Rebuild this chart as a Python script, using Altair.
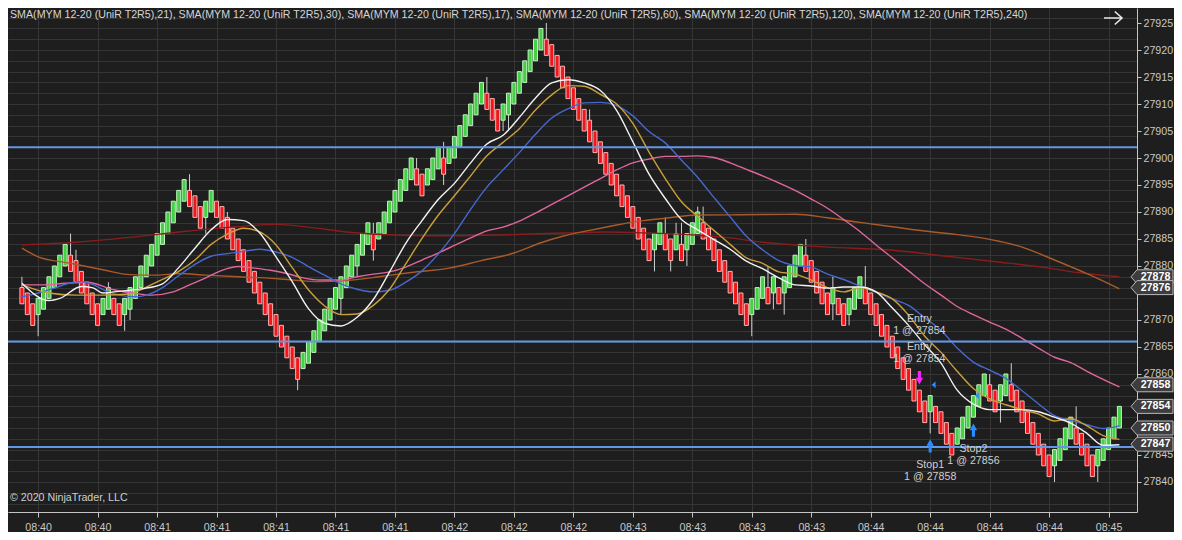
import altair as alt
import pandas as pd

# ---------------- data ----------------
title_text = ("SMA(MYM 12-20 (UniR T2R5),21), SMA(MYM 12-20 (UniR T2R5),30), "
              "SMA(MYM 12-20 (UniR T2R5),17), SMA(MYM 12-20 (UniR T2R5),60), "
              "SMA(MYM 12-20 (UniR T2R5),120), SMA(MYM 12-20 (UniR T2R5),240)")
copyright_text = "© 2020 NinjaTrader, LLC"

bar_open = [
    27876, 27875, 27873, 27871, 27872, 27874, 27876, 27878, 27880, 27882,
    27881, 27879, 27877, 27875, 27873, 27871, 27872, 27874, 27873, 27871,
    27872, 27874, 27876, 27878, 27880, 27882, 27884, 27886, 27888, 27890,
    27892, 27894, 27893, 27891, 27889, 27890, 27892, 27891, 27889, 27887,
    27885, 27883, 27881, 27879, 27877, 27875, 27873, 27871, 27869, 27867,
    27865, 27863, 27861, 27862, 27864, 27866, 27868, 27870, 27872, 27874,
    27876, 27878, 27880, 27882, 27884, 27886, 27885, 27886, 27888, 27890,
    27892, 27894, 27896, 27898, 27897, 27895, 27896, 27898, 27900, 27899,
    27900, 27902, 27904, 27906, 27908, 27910, 27912, 27911, 27909, 27907,
    27908, 27910, 27912, 27914, 27916, 27918, 27920, 27922, 27921, 27919,
    27917, 27915, 27913, 27911, 27909, 27907, 27905, 27903, 27901, 27899,
    27897, 27895, 27893, 27891, 27889, 27887, 27885, 27883, 27884, 27886,
    27885, 27883, 27884, 27883, 27884, 27886, 27888, 27887, 27885, 27883,
    27881, 27879, 27877, 27875, 27873, 27871, 27872, 27874, 27876, 27875,
    27876, 27875, 27876, 27878, 27880, 27882, 27881, 27879, 27877, 27875,
    27873, 27874, 27873, 27871, 27872, 27874, 27876, 27875, 27873, 27871,
    27869, 27867, 27865, 27863, 27861, 27859, 27857, 27855, 27853, 27854,
    27853, 27851, 27849, 27847, 27848, 27850, 27852, 27854, 27856, 27858,
    27857, 27855, 27856, 27858, 27857, 27855, 27853, 27851, 27849, 27847,
    27845, 27843, 27844, 27846, 27848, 27850, 27849, 27847, 27845, 27843,
    27844, 27846, 27848, 27850,
]
bar_close = [
    27873, 27871, 27869, 27874, 27876, 27878, 27880, 27882, 27884, 27879,
    27877, 27875, 27873, 27871, 27869, 27874, 27876, 27871, 27869, 27874,
    27876, 27878, 27880, 27882, 27884, 27886, 27888, 27890, 27892, 27894,
    27896, 27891, 27889, 27887, 27892, 27894, 27889, 27887, 27885, 27883,
    27881, 27879, 27877, 27875, 27873, 27871, 27869, 27867, 27865, 27863,
    27861, 27859, 27864, 27866, 27868, 27870, 27872, 27874, 27876, 27878,
    27880, 27882, 27884, 27886, 27888, 27883, 27888, 27890, 27892, 27894,
    27896, 27898, 27900, 27895, 27893, 27898, 27900, 27902, 27897, 27902,
    27904, 27906, 27908, 27910, 27912, 27914, 27909, 27907, 27905, 27910,
    27912, 27914, 27916, 27918, 27920, 27922, 27924, 27919, 27917, 27915,
    27913, 27911, 27909, 27907, 27905, 27903, 27901, 27899, 27897, 27895,
    27893, 27891, 27889, 27887, 27885, 27883, 27881, 27886, 27888, 27883,
    27881, 27886, 27881, 27886, 27888, 27890, 27885, 27883, 27881, 27879,
    27877, 27875, 27873, 27871, 27869, 27874, 27876, 27878, 27873, 27878,
    27873, 27878, 27880, 27882, 27884, 27879, 27877, 27875, 27873, 27871,
    27876, 27871, 27869, 27874, 27876, 27878, 27873, 27871, 27869, 27867,
    27865, 27863, 27861, 27859, 27857, 27855, 27853, 27851, 27856, 27851,
    27849, 27847, 27845, 27850, 27852, 27854, 27856, 27858, 27860, 27855,
    27853, 27858, 27860, 27855, 27853, 27851, 27849, 27847, 27845, 27843,
    27841, 27846, 27848, 27850, 27852, 27847, 27845, 27843, 27841, 27846,
    27848, 27850, 27852, 27854,
]

wick_bar = [0, 3, 9, 10, 16, 19, 20, 31, 34, 38,
            51, 59, 62, 65, 73, 78, 86, 89, 90, 97,
            105, 117, 119, 120, 121, 122, 123, 125, 126, 135,
            138, 139, 141, 145, 150, 153, 156, 168, 179, 181,
            183, 191, 195, 199]
wick_high = [27878, 27874, 27886, 27883, 27877, 27874, 27876, 27897, 27892, 27890,
             27863, 27878, 27884, 27888, 27900, 27903, 27915, 27910, 27912, 27925,
             27909, 27886, 27889, 27885, 27888, 27888, 27886, 27891, 27891, 27874,
             27880, 27878, 27878, 27885, 27878, 27874, 27880, 27856, 27860, 27858,
             27862, 27846, 27854, 27846]
wick_low = [27873, 27867, 27879, 27877, 27872, 27868, 27870, 27891, 27886, 27885,
            27857, 27871, 27878, 27881, 27895, 27895, 27909, 27905, 27905, 27919,
            27903, 27879, 27883, 27879, 27883, 27881, 27880, 27886, 27885, 27867,
            27873, 27872, 27871, 27879, 27870, 27869, 27873, 27849, 27855, 27851,
            27855, 27840, 27847, 27840]

time_tick_bars = [3, 14, 25, 36, 47, 58, 69, 80, 91, 102, 113, 124, 135, 146, 157, 168, 179, 190, 201]
time_tick_labels = ["08:40", "08:40", "08:41", "08:41", "08:41", "08:41", "08:41", "08:42",
                    "08:42", "08:42", "08:43", "08:43", "08:43", "08:43", "08:44", "08:44",
                    "08:44", "08:44", "08:45"]

# SMA 17 (white)
sma17_idx = [0, 5, 7, 11, 13, 15, 17, 20, 23, 26, 29, 32, 35, 38, 41, 44, 47, 50, 53, 56,
             59, 62, 65, 68, 71, 74, 77, 80, 83, 86, 89, 92, 95, 98, 101, 104, 107, 110,
             113, 116, 119, 122, 125, 128, 131, 134, 137, 140, 143, 146, 149, 152, 155,
             158, 161, 164, 167, 170, 173, 176, 179, 182, 185, 188, 191, 194, 197, 200, 203]
sma17_val = [27876.8, 27873.6, 27874.0, 27876.2, 27876.0, 27875.0,
             27875.2, 27875.5, 27875.9, 27876.7, 27879.7, 27883.3, 27886.7, 27888.6, 27888.4, 27886.1,
             27881.7, 27877.1, 27872.1, 27869.4, 27868.9, 27870.5, 27873.8, 27878.9, 27884.2, 27888.4,
             27892.3, 27895.3, 27899.1, 27902.6, 27904.2, 27907.5, 27911.1, 27913.9, 27914.5, 27913.9,
             27912.5, 27908.8, 27903.0, 27897.0, 27892.5, 27888.6, 27886.7, 27884.9, 27883.1, 27880.9,
             27879.5, 27877.8, 27876.5, 27876.3, 27875.9, 27876.1, 27876.1, 27875.2, 27872.2, 27869.0,
             27865.4, 27862.0, 27857.0, 27854.4, 27853.4, 27853.4, 27853.4, 27853.0, 27852.0, 27850.9,
             27849.0, 27846.8, 27846.9]

# SMA 21 (gold)
sma21_idx = [0, 5, 10, 15, 20, 23, 26, 29, 32, 35, 38, 41, 44, 47, 50, 53, 56, 59, 62, 65,
             68, 71, 74, 77, 80, 83, 86, 89, 92, 95, 98, 101, 104, 107, 110, 113, 116, 119,
             122, 125, 128, 131, 134, 137, 140, 143, 146, 149, 152, 155, 158, 161, 164, 167,
             170, 173, 176, 179, 182, 185, 188, 191, 194, 197, 200, 203]
sma21_val = [27876.5, 27875.0, 27874.6, 27874.6,
             27874.8, 27876.1, 27877.5, 27879.0, 27881.1, 27884.0, 27885.9, 27887.0, 27886.3, 27883.9,
             27879.7, 27875.6, 27872.6, 27871.0, 27871.1, 27872.7, 27875.7, 27880.4, 27885.1, 27889.4,
             27893.0, 27896.7, 27900.4, 27902.9, 27905.4, 27908.9, 27911.7, 27913.4, 27913.3, 27911.8,
             27910.0, 27906.4, 27901.1, 27896.2, 27891.9, 27889.2, 27886.6, 27884.0, 27881.5, 27880.5,
             27878.9, 27878.5, 27877.4, 27876.0, 27875.2, 27876.0, 27875.2, 27873.9, 27870.9, 27867.0,
             27864.0, 27860.5, 27857.3, 27855.4, 27854.3, 27853.4, 27852.6, 27851.3, 27851.7, 27850.4,
             27848.6, 27847.9]

# SMA 30 (blue)
sma30_idx = [0, 3, 6, 9, 11, 13, 16, 18, 21, 23, 26, 29, 32, 35, 38, 41, 44, 47, 50, 53,
             56, 59, 62, 65, 68, 71, 74, 77, 80, 83, 86, 89, 92, 95, 98, 101, 104, 107, 110,
             113, 116, 119, 122, 125, 128, 131, 134, 137, 140, 143, 146, 149, 152, 155, 158,
             161, 164, 167, 170, 173, 176, 179, 182, 185, 188, 191, 194, 197, 200, 203]
sma30_val = [27874.3, 27875.0, 27875.9, 27876.9, 27877.1, 27876.6, 27875.2, 27874.6, 27874.3, 27874.6,
             27876.0, 27878.2, 27880.3, 27881.8, 27882.3, 27882.7, 27883.1, 27882.6, 27881.6, 27879.9,
             27878.3, 27876.7, 27875.7, 27875.2, 27875.5, 27877.0, 27879.1, 27882.2, 27886.0, 27890.5,
             27894.6, 27897.8, 27901.0, 27904.4, 27907.4, 27909.1, 27910.2, 27910.3, 27909.7, 27907.8,
             27904.9, 27902.8, 27899.6, 27896.4, 27892.7, 27889.1, 27885.5, 27883.0, 27881.0, 27880.1,
             27879.8, 27878.5, 27877.5, 27876.3, 27875.1, 27873.9, 27872.7, 27870.4, 27868.1, 27864.8,
             27862.2, 27860.7, 27859.2, 27856.9, 27854.5, 27852.3, 27851.4, 27850.6, 27849.9, 27850.4]

# SMA 60 (pink)
sma60_idx = [0, 4, 8, 12, 17, 21, 24, 28, 31, 34, 37, 40, 43, 46, 49, 52, 55,
             59, 62, 65, 68, 71, 74, 77, 80, 83, 86, 89, 92, 95, 98, 101, 104, 107, 110,
             113, 116, 119, 122, 125, 128, 131, 134, 137, 140, 143, 146, 149, 152, 155, 158,
             161, 164, 167, 170, 173, 176, 179, 182, 185, 188, 191, 194, 197, 200, 203]
sma60_val = [27876.5, 27876.5, 27876.8, 27877.0, 27875.6, 27874.9, 27874.6, 27875.2, 27876.5, 27877.8,
             27879.2, 27879.9, 27879.6, 27879.2, 27878.6, 27877.8, 27877.4,
             27877.4, 27878.0, 27878.5, 27878.9, 27879.8, 27881.1, 27882.4, 27883.8, 27885.2, 27886.5,
             27887.2, 27888.3, 27889.8, 27891.4, 27893.0, 27894.6, 27896.2, 27897.8, 27899.1, 27899.8,
             27900.3, 27900.3, 27900.4, 27900.1, 27899.1, 27897.9, 27896.7, 27895.4, 27894.0, 27892.4,
             27890.7, 27888.6, 27886.4, 27883.9, 27881.5, 27879.1, 27876.7, 27874.6, 27872.5, 27871.0,
             27869.6, 27868.3, 27866.6, 27864.8, 27863.1, 27862.1, 27860.5, 27859.0, 27857.6]

# SMA 120 (brown)
sma120_idx = [0, 3, 9, 15, 20, 25, 29, 34, 40, 45, 50, 55, 60, 66, 72, 79, 85, 91, 96, 100,
              105, 110, 115, 119, 125, 131, 137, 143, 149, 155, 161, 167, 173, 179, 185, 191,
              197, 203]
sma120_val = [27883.3, 27881.7, 27880.5, 27879.3, 27878.4, 27878.3, 27878.6, 27878.3, 27878.0,
              27877.8, 27877.4, 27877.1, 27877.3, 27878.0, 27878.8, 27879.6, 27881.0, 27882.4,
              27884.3, 27885.5, 27886.6, 27887.6, 27888.4, 27888.85, 27889.44, 27889.47, 27889.53,
              27889.57, 27888.94, 27888.07, 27887.27, 27886.47, 27885.8, 27884.94, 27883.5,
              27881.11, 27878.58, 27875.78]

# SMA 240 (dark red)
sma240_idx = [0, 10, 20, 30, 40, 47, 53, 60, 70, 80, 90, 100, 108, 116, 125, 131, 137, 143,
              149, 160, 172, 181, 190, 196, 203]
sma240_val = [27883.9, 27884.4, 27885.3, 27886.4, 27887.3, 27887.7, 27887.2, 27886.3, 27885.7,
              27885.6, 27885.8, 27886.1, 27886.3, 27886.1, 27885.7, 27885.2, 27884.4, 27883.9,
              27883.5, 27883.0, 27881.7, 27880.7, 27879.6, 27878.7, 27878.0]

hline_levels = [27902, 27866, 27846.5]
marker_levels = [27878, 27876, 27858, 27854, 27850, 27847]

entry_arrow_bar = [166]
entry_arrow_price = [27859.3]
stop_arrow_bar = [168, 176]
stop_arrow_price = [27846.7, 27849.6]
fill_bar = [168, 176]
fill_price = [27858, 27856]

ann_bar = [166, 166, 168, 176]
ann_price = [27854, 27854, 27858, 27856]
ann_line1 = ["Entry", "Entry", "Stop1", "Stop2"]
ann_line2 = ["1 @ 27854", "1 @ 27854", "1 @ 27858", "1 @ 27856"]

# ---------------- style ----------------
FONT = "Liberation Sans"
BG = "#1e1e1e"
GRID = "#353535"
AXIS_COL = "#c4c4c4"
LABEL_COL = "#c8c8c8"
TEXT_COL = "#cfcfcf"
GREEN, GREEN_EDGE = "#45cf45", "#c2f5c2"
RED, RED_EDGE = "#f0161c", "#ffb3b3"
WICK = "#cfcfcf"
ann_dy = [-81.4, -53.4, 86.2, 59.4]
FS = 10.67

W, H = 1129, 504
xs = alt.Scale(domain=[-1.65, 205.33], nice=False, zero=False)
ys = alt.Scale(domain=[27834.44, 27927.78], nice=False, zero=False)

labels_js = ",".join("'%s'" % t for t in time_tick_labels)
vals_js = ",".join(str(v) for v in time_tick_bars)
x_axis = alt.Axis(
    orient="bottom", values=time_tick_bars,
    labelExpr="[%s][indexof([%s], datum.value)]" % (labels_js, vals_js),
    grid=True, gridColor=GRID, gridWidth=1,
    ticks=True, tickSize=5, tickColor=AXIS_COL,
    domain=True, domainColor=AXIS_COL,
    labelColor=LABEL_COL, labelFont=FONT, labelFontSize=FS, labelPadding=5,
    labelFlush=False, labelOverlap=False, title=None,
)
# price labels that sit fully under a price marker are not visible
covered = " && ".join("abs(datum.value - %s) > 1.5" % v for v in marker_levels)
y_axis = alt.Axis(
    orient="right", values=[v for v in range(27836, 27928)],
    labelExpr="datum.value %% 5 == 0 && %s ? format(datum.value, 'd') : ''" % covered,
    grid=True, gridColor=GRID, gridWidth=1,
    gridOpacity=alt.condition("datum.value % 2 == 0", alt.value(1), alt.value(0)),
    ticks=True, tickSize=4, tickColor=AXIS_COL,
    tickOpacity=alt.condition("datum.value % 5 == 0", alt.value(1), alt.value(0)),
    domain=True, domainColor=AXIS_COL,
    labelColor=LABEL_COL, labelFont=FONT, labelFontSize=FS, labelPadding=2,
    labelFlush=False, labelOverlap=False, title=None,
)


def X(f):
    return alt.X(f, type="quantitative", scale=xs, axis=x_axis)


def Y(f):
    return alt.Y(f, type="quantitative", scale=ys, axis=y_axis)


# ---------------- layers ----------------
df_bars = pd.DataFrame({"i": list(range(len(bar_open))), "open": bar_open, "close": bar_close})
df_bars["dir"] = ["up" if c > o else "down" for o, c in zip(bar_open, bar_close)]
df_wicks = pd.DataFrame({"i": wick_bar, "hi": wick_high, "lo": wick_low})

wicks = alt.Chart(df_wicks).mark_rule(color=WICK, strokeWidth=1).encode(
    x=X("i"), y=Y("lo"), y2="hi:Q")

bars = alt.Chart(df_bars).mark_bar(orient="vertical", width=4, strokeWidth=1).encode(
    x=X("i"), y=Y("open"), y2="close:Q",
    fill=alt.Fill("dir:N", scale=alt.Scale(domain=["up", "down"], range=[GREEN, RED]), legend=None),
    stroke=alt.Stroke("dir:N", scale=alt.Scale(domain=["up", "down"], range=[GREEN_EDGE, RED_EDGE]), legend=None),
)


def sma_line(idx, vals, color, w=1.4):
    return alt.Chart(pd.DataFrame({"i": idx, "v": vals})).mark_line(
        color=color, strokeWidth=w, interpolate="monotone").encode(x=X("i"), y=Y("v"))


lines = [
    sma_line(sma240_idx, sma240_val, "#8a1c1c"),
    sma_line(sma120_idx, sma120_val, "#a85a2a"),
    sma_line(sma60_idx, sma60_val, "#e0669e"),
    sma_line(sma30_idx, sma30_val, "#4668d0"),
    sma_line(sma21_idx, sma21_val, "#c9a03a"),
    sma_line(sma17_idx, sma17_val, "#f2f2f2"),
]

hlines = alt.Chart(pd.DataFrame({"v": hline_levels})).mark_rule(
    color="#6496e6", strokeWidth=2).encode(y=Y("v"))

DOWN_ARROW = "M -0.23 -1 L 0.23 -1 L 0.23 0 L 0.55 0 L 0 1 L -0.55 0 L -0.23 0 Z"
UP_ARROW = "M -0.23 1 L 0.23 1 L 0.23 0 L 0.55 0 L 0 -1 L -0.55 0 L -0.23 0 Z"
LEFT_TRI = "M 0.45 0 L 1.6 -1 L 1.6 1 Z"
TAG = "M -1 0 L -0.714 -0.333 L 1 -0.333 L 1 0.333 L -0.714 0.333 Z"
ARROW_GLYPH = "M -1 0 L 1 0 M 0.2 -0.72 L 1 0 L 0.2 0.72"

entry_arrows = alt.Chart(pd.DataFrame({"i": entry_arrow_bar, "p": entry_arrow_price})).mark_point(
    shape=DOWN_ARROW, size=177, filled=True, color="#ff22ff", opacity=1, strokeWidth=0).encode(
    x=X("i"), y=Y("p"))
stop_arrows = alt.Chart(pd.DataFrame({"i": stop_arrow_bar, "p": stop_arrow_price})).mark_point(
    shape=UP_ARROW, size=177, filled=True, color="#2a8cff", opacity=1, strokeWidth=0).encode(
    x=X("i"), y=Y("p"))
fill_tris = alt.Chart(pd.DataFrame({"i": fill_bar, "p": fill_price})).mark_point(
    shape=LEFT_TRI, size=45, filled=True, color="#2a8cff", opacity=1, strokeWidth=0).encode(
    x=X("i"), y=Y("p"))

ann_layers = []
for k in range(len(ann_bar)):
    d = pd.DataFrame({"i": [ann_bar[k]], "p": [ann_price[k]],
                      "t1": [ann_line1[k]], "t2": [ann_line2[k]]})
    base = alt.Chart(d)
    ann_layers.append(base.mark_text(dy=ann_dy[k] - 6, color=TEXT_COL, font=FONT, fontSize=FS,
                                     align="center", baseline="middle").encode(
        x=X("i"), y=Y("p"), text="t1:N"))
    ann_layers.append(base.mark_text(dy=ann_dy[k] + 6, color=TEXT_COL, font=FONT, fontSize=FS,
                                     align="center", baseline="middle").encode(
        x=X("i"), y=Y("p"), text="t2:N"))

df_tags = pd.DataFrame({"v": marker_levels})
tags = alt.Chart(df_tags).mark_point(
    shape=TAG, size=1764, filled=True, fill="#3d3d3d", stroke="#b8b8b8", strokeWidth=1,
    opacity=1).encode(x=alt.value(1144), y=Y("v"))
tag_text = alt.Chart(df_tags).mark_text(
    color="#ffffff", font=FONT, fontSize=FS, fontWeight="bold", align="center",
    baseline="middle").encode(x=alt.value(1147.5), y=Y("v"), text=alt.Text("v:Q", format="d"))

title = alt.Chart(pd.DataFrame({"t": [title_text]})).mark_text(
    align="left", baseline="top", color="#d6d6d6", font=FONT, fontSize=FS).encode(
    x=alt.value(2), y=alt.value(2), text="t:N")
copyright_ = alt.Chart(pd.DataFrame({"t": [copyright_text]})).mark_text(
    align="left", baseline="middle", color=TEXT_COL, font=FONT, fontSize=FS).encode(
    x=alt.value(2), y=alt.value(490), text="t:N")
arrow = alt.Chart(pd.DataFrame({"t": ["nav"]})).mark_point(
    shape=ARROW_GLYPH, size=324, filled=False, stroke="#e6e6e6", strokeWidth=1.6,
    opacity=1).encode(x=alt.value(1105), y=alt.value(10))

chart = alt.layer(
    wicks, bars, *lines, hlines, entry_arrows, stop_arrows, fill_tris, *ann_layers,
    tags, tag_text, title, copyright_, arrow,
).properties(
    width=W, height=H,
    padding={"left": 0, "top": 0, "right": 37, "bottom": 20},
    autosize=alt.AutoSizeParams(type="none"),
).configure(background=BG).configure_view(stroke=None)

chart.save("out.html", embed_options={"renderer": "svg", "actions": False})
